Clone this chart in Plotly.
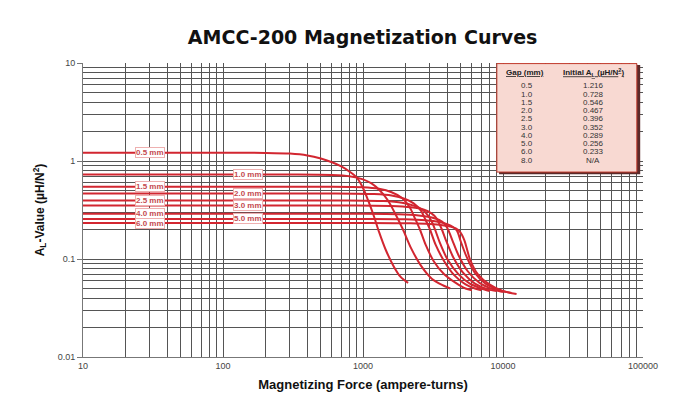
import numpy as np
import plotly.graph_objects as go

# ---------------- data ----------------
gaps = ["0.5", "1.0", "1.5", "2.0", "2.5", "3.0", "4.0", "5.0", "6.0", "8.0"]
initial_al = ["1.216", "0.728", "0.546", "0.467", "0.396", "0.352", "0.289", "0.256", "0.233", "N/A"]

x_05 = [10, 100, 200, 300, 400, 500, 600, 700, 800, 900, 1000, 1100, 1200, 1300, 1450, 1650, 1850, 2100]
y_05 = [1.216, 1.216, 1.21, 1.19, 1.14, 1.06, 0.97, 0.88, 0.78, 0.68, 0.53, 0.38, 0.27, 0.19, 0.125, 0.085, 0.066, 0.057]

x_10 = [10, 300, 600, 800, 1000, 1150, 1320, 1500, 1700, 1930, 2200, 2600, 3100, 3700, 4200]
y_10 = [0.728, 0.728, 0.72, 0.70, 0.65, 0.59, 0.50, 0.40, 0.29, 0.20, 0.13, 0.085, 0.063, 0.054, 0.05]

x_15 = [10, 500, 1000, 1300, 1600, 1900, 2150, 2350, 2550, 2800, 3200, 3800, 4600, 5400, 6000]
y_15 = [0.546, 0.546, 0.54, 0.52, 0.48, 0.42, 0.34, 0.26, 0.20, 0.14, 0.095, 0.07, 0.057, 0.05, 0.048]

x_20 = [10, 600, 1200, 1600, 2000, 2300, 2600, 2800, 3010, 3300, 3800, 4500, 5400, 6300, 7000]
y_20 = [0.467, 0.467, 0.46, 0.445, 0.41, 0.37, 0.31, 0.25, 0.20, 0.14, 0.095, 0.068, 0.055, 0.05, 0.048]

x_25 = [10, 700, 1400, 1900, 2300, 2650, 2900, 3100, 3270, 3550, 4000, 4800, 5800, 7000, 8000]
y_25 = [0.396, 0.396, 0.39, 0.375, 0.35, 0.32, 0.28, 0.24, 0.20, 0.145, 0.10, 0.07, 0.056, 0.05, 0.047]

x_30 = [10, 800, 1600, 2200, 2700, 3100, 3350, 3500, 3660, 3950, 4400, 5200, 6300, 7800, 9000]
y_30 = [0.352, 0.352, 0.348, 0.337, 0.32, 0.29, 0.26, 0.23, 0.20, 0.15, 0.105, 0.072, 0.056, 0.049, 0.047]

x_40 = [10, 900, 1800, 2500, 3100, 3500, 3800, 4050, 4350, 4800, 5600, 6800, 8500, 10000]
y_40 = [0.289, 0.289, 0.286, 0.278, 0.265, 0.25, 0.23, 0.20, 0.155, 0.11, 0.075, 0.057, 0.049, 0.046]

x_50 = [10, 1000, 2000, 2800, 3500, 4000, 4400, 4690, 5000, 5500, 6300, 7500, 9500, 11500]
y_50 = [0.256, 0.256, 0.254, 0.248, 0.238, 0.226, 0.212, 0.195, 0.15, 0.105, 0.072, 0.056, 0.048, 0.045]

x_60 = [10, 1100, 2200, 3000, 3700, 4200, 4600, 4950, 5300, 5800, 6600, 8000, 10000, 12500]
y_60 = [0.233, 0.233, 0.231, 0.227, 0.221, 0.214, 0.205, 0.188, 0.155, 0.1, 0.07, 0.055, 0.047, 0.044]

curves = [("0.5", x_05, y_05), ("1.0", x_10, y_10), ("1.5", x_15, y_15),
          ("2.0", x_20, y_20), ("2.5", x_25, y_25), ("3.0", x_30, y_30),
          ("4.0", x_40, y_40), ("5.0", x_50, y_50), ("6.0", x_60, y_60)]

x_ticks = [10, 100, 1000, 10000, 100000]
x_tick_labels = ["10", "100", "1000", "10000", "100000"]
y_ticks = [0.01, 0.1, 1, 10]
y_tick_labels = ["0.01", "0.1", "1", "10"]

# label anchor x for each gap label (alternating)
label_x = {"0.5": 30, "1.5": 30, "2.5": 30, "4.0": 30, "6.0": 30,
           "1.0": 150, "2.0": 150, "3.0": 150, "5.0": 150}

RED = "#d22630"

fig = go.Figure()
for name, xs, ys in curves:
    fig.add_trace(go.Scatter(x=xs, y=ys, mode="lines", name=name + " mm",
                             line=dict(color=RED, width=2, shape="spline", smoothing=0.8),
                             showlegend=False))

for name, xs, ys in curves:
    fig.add_annotation(x=np.log10(label_x[name]), y=np.log10(ys[0]), xref="x", yref="y",
                       xanchor="center", yanchor="middle",
                       text="<b>" + name + " mm</b>", showarrow=False,
                       font=dict(family="Liberation Sans", size=8, color="#c44a50"),
                       bgcolor="white", bordercolor="#eeb0b0", borderwidth=1, borderpad=0)

# table box
fig.add_shape(type="rect", xref="paper", yref="paper", x0=0.743, x1=0.995, y0=0.622, y1=0.993,
              fillcolor="#5a2a2a", line=dict(width=0), layer="above")
fig.add_shape(type="rect", xref="paper", yref="paper", x0=0.739, x1=0.989, y0=0.629, y1=0.998,
              fillcolor="#f8d9d2", line=dict(color="#c0392b", width=1), layer="above")

tfont = dict(family="Liberation Sans", size=8, color="#333")
hfont = dict(family="Liberation Sans", size=8, color="#222")
fig.add_annotation(x=0.79, y=0.966, xref="paper", yref="paper", showarrow=False,
                   xanchor="center", yanchor="middle",
                   text="<b><u>Gap (mm)</u></b>", font=hfont)
fig.add_annotation(x=0.912, y=0.966, xref="paper", yref="paper", showarrow=False,
                   xanchor="center", yanchor="middle",
                   text="<b><u>Initial A<sub>L</sub> (µH/N<sup>2</sup>)</u></b>", font=hfont)
for i, (g, a) in enumerate(zip(gaps, initial_al)):
    yy = 0.922 - i * 0.028
    fig.add_annotation(x=0.793, y=yy, xref="paper", yref="paper", showarrow=False,
                       xanchor="center", yanchor="middle", text=g, font=tfont)
    fig.add_annotation(x=0.911, y=yy, xref="paper", yref="paper", showarrow=False,
                       xanchor="center", yanchor="middle", text=a, font=tfont)

grid_c = "#555555"
fig.update_xaxes(type="log", range=[1, 5], tickvals=x_ticks, ticktext=x_tick_labels,
                 automargin=False,
                 showgrid=True, gridcolor=grid_c, gridwidth=1,
                 minor=dict(dtick="D1", showgrid=True, gridcolor=grid_c, gridwidth=1, ticks=""),
                 showline=True, linecolor="#777", linewidth=1, ticks="",
                 tickfont=dict(family="Liberation Sans", size=9, color="#444"),
                 title=dict(text="<b>Magnetizing Force (ampere-turns)</b>",
                            font=dict(family="Liberation Sans", size=13, color="#111"), standoff=10),
                 zeroline=False)
fig.update_yaxes(type="log", range=[-2, 1], tickvals=y_ticks, ticktext=y_tick_labels,
                 automargin=False,
                 showgrid=True, gridcolor=grid_c, gridwidth=1,
                 minor=dict(dtick="D1", showgrid=True, gridcolor=grid_c, gridwidth=1, ticks=""),
                 showline=True, linecolor="#777", linewidth=1, ticks="outside", ticklen=5, tickcolor="#777",
                 tickfont=dict(family="Liberation Sans", size=9, color="#444"),
                 title=dict(text="<b>A<sub>L</sub>-Value (µH/N<sup>2</sup>)</b>",
                            font=dict(family="Liberation Sans", size=12, color="#111"), standoff=10),
                 zeroline=False)

# page body has an 8px default margin, so the figure is drawn 8px in from the window corner
fig.update_layout(width=682, height=390, margin=dict(l=75, r=47, t=55, b=41, autoexpand=False),
                  paper_bgcolor="white", plot_bgcolor="white",
                  title=dict(text="<b>AMCC-200 Magnetization Curves</b>", x=0.52, xanchor="center",
                             y=0.925, yanchor="middle",
                             font=dict(family="DejaVu Sans", size=19, color="#111")))

fig.write_html("out.html")
